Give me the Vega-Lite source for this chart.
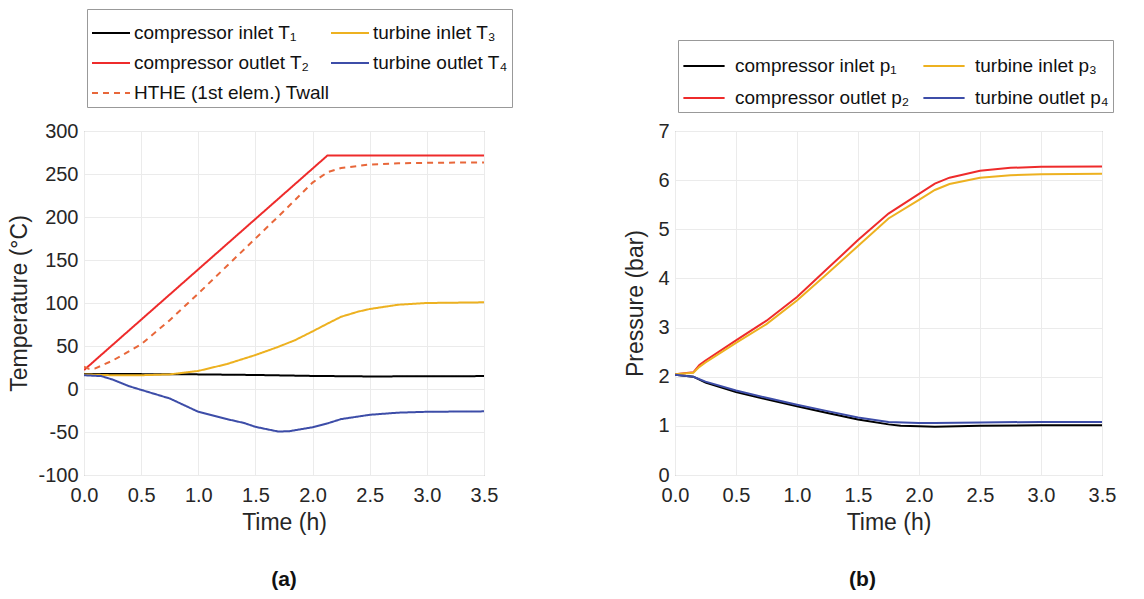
{
  "$schema": "https://vega.github.io/schema/vega-lite/v6.json",
  "background": "white",
  "padding": {"left": 8, "top": 8, "right": 5, "bottom": 5},
  "config": {
    "font": "Liberation Sans",
    "view": {"stroke": "#8c8c8c", "strokeWidth": 1},
    "axis": {
      "labelFontSize": 20, "titleFontSize": 23, "titleFontWeight": "normal",
      "labelColor": "#262626", "titleColor": "#262626",
      "domain": false, "ticks": false, "gridColor": "#ebebeb", "gridWidth": 1,
      "labelPadding": 6, "labelFlush": false, "labelOverlap": false
    },
    "legend": {
      "labelFontSize": 19, "labelColor": "#111111", "labelLimit": 400,
      "symbolType": "stroke", "symbolSize": 1444, "symbolStrokeWidth": 2,
      "strokeColor": "#999999", "fillColor": "white", "padding": 4,
      "columnPadding": -12, "rowPadding": 0, "labelOffset": 3
    },
    "title": {"fontSize": 21, "fontWeight": "bold", "color": "#111111"}
  },
  "resolve": {
    "scale": {"color": "independent", "strokeDash": "independent"},
    "legend": {"color": "independent", "strokeDash": "independent"}
  },
  "spacing": 111,
  "hconcat": [
    {
      "width": 400, "height": 344,
      "title": {"text": "(a)", "orient": "bottom", "offset": 35},
      "data": {"name": "temp"},
      "mark": {"type": "line", "strokeWidth": 2, "clip": true},
      "encoding": {
        "x": {"field": "t", "type": "quantitative", "title": "Time (h)",
          "scale": {"domain": [0, 3.5], "nice": false},
          "axis": {"values": [0, 0.5, 1, 1.5, 2, 2.5, 3, 3.5], "format": ".1f", "titlePadding": 6, "labelPadding": 10}},
        "y": {"field": "value", "type": "quantitative", "title": "Temperature (°C)",
          "scale": {"domain": [-100, 300], "nice": false, "zero": false},
          "axis": {"values": [-100, -50, 0, 50, 100, 150, 200, 250, 300], "titlePadding": 6,
            "labelExpr": "datum.value < 0 ? '-' + abs(datum.value) : '' + datum.value"}},
        "color": {"field": "series", "type": "nominal",
          "scale": {"domain": ["compressor inlet T₁", "turbine inlet T₃", "compressor outlet T₂", "turbine outlet T₄", "HTHE (1st elem.) Twall"],
            "range": ["#000000", "#EDB120", "#EE2B2B", "#3D4DA8", "#E8673A"]},
          "legend": {"title": null, "orient": "none", "legendX": 3, "legendY": -122, "columns": 2, "direction": "horizontal"}},
        "strokeDash": {"field": "series", "type": "nominal",
          "scale": {"domain": ["compressor inlet T₁", "turbine inlet T₃", "compressor outlet T₂", "turbine outlet T₄", "HTHE (1st elem.) Twall"],
            "range": [[1, 0], [1, 0], [1, 0], [1, 0], [6, 5]]},
          "legend": {"title": null, "orient": "none", "legendX": 3, "legendY": -122, "columns": 2, "direction": "horizontal"}}
      }
    },
    {
      "width": 427, "height": 344,
      "title": {"text": "(b)", "orient": "bottom", "offset": 35, "dx": -26},
      "data": {"name": "pres"},
      "mark": {"type": "line", "strokeWidth": 2, "clip": true},
      "encoding": {
        "x": {"field": "t", "type": "quantitative", "title": "Time (h)",
          "scale": {"domain": [0, 3.5], "nice": false},
          "axis": {"values": [0, 0.5, 1, 1.5, 2, 2.5, 3, 3.5], "format": ".1f", "titlePadding": 6, "labelPadding": 10}},
        "y": {"field": "value", "type": "quantitative", "title": "Pressure (bar)",
          "scale": {"domain": [0, 7], "nice": false},
          "axis": {"values": [0, 1, 2, 3, 4, 5, 6, 7], "titlePadding": 10}},
        "color": {"field": "series", "type": "nominal",
          "scale": {"domain": ["compressor inlet p₁", "turbine inlet p₃", "compressor outlet p₂", "turbine outlet p₄"],
            "range": ["#000000", "#EDB120", "#EE2B2B", "#3D4DA8"]},
          "legend": {"title": null, "orient": "none", "legendX": 3, "legendY": -91, "columns": 2, "direction": "horizontal", "symbolSize": 1700, "rowPadding": 0, "padding": 4, "columnPadding": 9, "labelOffset": 9}}
      }
    }
  ],
  "datasets": {
    "temp": [
      {"t": 0, "series": "compressor inlet T₁", "value": 17.5},
      {"t": 0.5, "series": "compressor inlet T₁", "value": 17.3},
      {"t": 1.0, "series": "compressor inlet T₁", "value": 17.0},
      {"t": 1.5, "series": "compressor inlet T₁", "value": 16.3},
      {"t": 2.0, "series": "compressor inlet T₁", "value": 15.2},
      {"t": 2.5, "series": "compressor inlet T₁", "value": 14.6},
      {"t": 3.0, "series": "compressor inlet T₁", "value": 14.8},
      {"t": 3.5, "series": "compressor inlet T₁", "value": 15.0},

      {"t": 0, "series": "compressor outlet T₂", "value": 22},
      {"t": 2.13, "series": "compressor outlet T₂", "value": 271.5},
      {"t": 3.5, "series": "compressor outlet T₂", "value": 271.5},

      {"t": 0, "series": "turbine inlet T₃", "value": 17},
      {"t": 0.25, "series": "turbine inlet T₃", "value": 16},
      {"t": 0.5, "series": "turbine inlet T₃", "value": 16},
      {"t": 0.75, "series": "turbine inlet T₃", "value": 17},
      {"t": 1.0, "series": "turbine inlet T₃", "value": 21},
      {"t": 1.25, "series": "turbine inlet T₃", "value": 29},
      {"t": 1.5, "series": "turbine inlet T₃", "value": 39.5},
      {"t": 1.7, "series": "turbine inlet T₃", "value": 49},
      {"t": 1.85, "series": "turbine inlet T₃", "value": 57},
      {"t": 2.0, "series": "turbine inlet T₃", "value": 67},
      {"t": 2.13, "series": "turbine inlet T₃", "value": 76},
      {"t": 2.25, "series": "turbine inlet T₃", "value": 84},
      {"t": 2.4, "series": "turbine inlet T₃", "value": 90},
      {"t": 2.5, "series": "turbine inlet T₃", "value": 93},
      {"t": 2.75, "series": "turbine inlet T₃", "value": 98},
      {"t": 3.0, "series": "turbine inlet T₃", "value": 100},
      {"t": 3.5, "series": "turbine inlet T₃", "value": 100.8},

      {"t": 0, "series": "turbine outlet T₄", "value": 16},
      {"t": 0.15, "series": "turbine outlet T₄", "value": 15},
      {"t": 0.25, "series": "turbine outlet T₄", "value": 11},
      {"t": 0.4, "series": "turbine outlet T₄", "value": 3},
      {"t": 0.5, "series": "turbine outlet T₄", "value": -1},
      {"t": 0.75, "series": "turbine outlet T₄", "value": -11},
      {"t": 1.0, "series": "turbine outlet T₄", "value": -26.5},
      {"t": 1.25, "series": "turbine outlet T₄", "value": -35},
      {"t": 1.4, "series": "turbine outlet T₄", "value": -39.5},
      {"t": 1.5, "series": "turbine outlet T₄", "value": -44},
      {"t": 1.7, "series": "turbine outlet T₄", "value": -49.5},
      {"t": 1.8, "series": "turbine outlet T₄", "value": -49},
      {"t": 2.0, "series": "turbine outlet T₄", "value": -44.5},
      {"t": 2.13, "series": "turbine outlet T₄", "value": -40},
      {"t": 2.25, "series": "turbine outlet T₄", "value": -35},
      {"t": 2.5, "series": "turbine outlet T₄", "value": -30},
      {"t": 2.75, "series": "turbine outlet T₄", "value": -27.5},
      {"t": 3.0, "series": "turbine outlet T₄", "value": -26.5},
      {"t": 3.5, "series": "turbine outlet T₄", "value": -26},

      {"t": 0, "series": "HTHE (1st elem.) Twall", "value": 26},
      {"t": 0.04, "series": "HTHE (1st elem.) Twall", "value": 23.5},
      {"t": 0.1, "series": "HTHE (1st elem.) Twall", "value": 24},
      {"t": 0.25, "series": "HTHE (1st elem.) Twall", "value": 33},
      {"t": 0.5, "series": "HTHE (1st elem.) Twall", "value": 52},
      {"t": 0.75, "series": "HTHE (1st elem.) Twall", "value": 80},
      {"t": 1.0, "series": "HTHE (1st elem.) Twall", "value": 111},
      {"t": 1.25, "series": "HTHE (1st elem.) Twall", "value": 143},
      {"t": 1.5, "series": "HTHE (1st elem.) Twall", "value": 175},
      {"t": 1.75, "series": "HTHE (1st elem.) Twall", "value": 207},
      {"t": 2.0, "series": "HTHE (1st elem.) Twall", "value": 240},
      {"t": 2.13, "series": "HTHE (1st elem.) Twall", "value": 252},
      {"t": 2.25, "series": "HTHE (1st elem.) Twall", "value": 257},
      {"t": 2.5, "series": "HTHE (1st elem.) Twall", "value": 261},
      {"t": 2.75, "series": "HTHE (1st elem.) Twall", "value": 262.5},
      {"t": 3.0, "series": "HTHE (1st elem.) Twall", "value": 263},
      {"t": 3.5, "series": "HTHE (1st elem.) Twall", "value": 263.5}
    ],
    "pres": [
      {"t": 0, "series": "compressor inlet p₁", "value": 2.04},
      {"t": 0.15, "series": "compressor inlet p₁", "value": 2.0},
      {"t": 0.25, "series": "compressor inlet p₁", "value": 1.88},
      {"t": 0.5, "series": "compressor inlet p₁", "value": 1.69},
      {"t": 0.75, "series": "compressor inlet p₁", "value": 1.54},
      {"t": 1.0, "series": "compressor inlet p₁", "value": 1.4},
      {"t": 1.25, "series": "compressor inlet p₁", "value": 1.26},
      {"t": 1.5, "series": "compressor inlet p₁", "value": 1.13},
      {"t": 1.75, "series": "compressor inlet p₁", "value": 1.03},
      {"t": 1.85, "series": "compressor inlet p₁", "value": 1.0},
      {"t": 2.0, "series": "compressor inlet p₁", "value": 0.99},
      {"t": 2.13, "series": "compressor inlet p₁", "value": 0.98},
      {"t": 2.5, "series": "compressor inlet p₁", "value": 1.0},
      {"t": 3.0, "series": "compressor inlet p₁", "value": 1.01},
      {"t": 3.5, "series": "compressor inlet p₁", "value": 1.01},

      {"t": 0, "series": "compressor outlet p₂", "value": 2.05},
      {"t": 0.15, "series": "compressor outlet p₂", "value": 2.09},
      {"t": 0.2, "series": "compressor outlet p₂", "value": 2.24},
      {"t": 0.25, "series": "compressor outlet p₂", "value": 2.33},
      {"t": 0.5, "series": "compressor outlet p₂", "value": 2.74},
      {"t": 0.75, "series": "compressor outlet p₂", "value": 3.14},
      {"t": 1.0, "series": "compressor outlet p₂", "value": 3.62},
      {"t": 1.25, "series": "compressor outlet p₂", "value": 4.2},
      {"t": 1.5, "series": "compressor outlet p₂", "value": 4.78},
      {"t": 1.75, "series": "compressor outlet p₂", "value": 5.32},
      {"t": 2.0, "series": "compressor outlet p₂", "value": 5.72},
      {"t": 2.13, "series": "compressor outlet p₂", "value": 5.93},
      {"t": 2.25, "series": "compressor outlet p₂", "value": 6.05},
      {"t": 2.5, "series": "compressor outlet p₂", "value": 6.19},
      {"t": 2.75, "series": "compressor outlet p₂", "value": 6.25},
      {"t": 3.0, "series": "compressor outlet p₂", "value": 6.27},
      {"t": 3.5, "series": "compressor outlet p₂", "value": 6.28},

      {"t": 0, "series": "turbine inlet p₃", "value": 2.05},
      {"t": 0.15, "series": "turbine inlet p₃", "value": 2.08},
      {"t": 0.2, "series": "turbine inlet p₃", "value": 2.2},
      {"t": 0.25, "series": "turbine inlet p₃", "value": 2.29},
      {"t": 0.5, "series": "turbine inlet p₃", "value": 2.69},
      {"t": 0.75, "series": "turbine inlet p₃", "value": 3.07},
      {"t": 1.0, "series": "turbine inlet p₃", "value": 3.55},
      {"t": 1.25, "series": "turbine inlet p₃", "value": 4.1},
      {"t": 1.5, "series": "turbine inlet p₃", "value": 4.66},
      {"t": 1.75, "series": "turbine inlet p₃", "value": 5.22},
      {"t": 2.0, "series": "turbine inlet p₃", "value": 5.6},
      {"t": 2.13, "series": "turbine inlet p₃", "value": 5.8},
      {"t": 2.25, "series": "turbine inlet p₃", "value": 5.92},
      {"t": 2.5, "series": "turbine inlet p₃", "value": 6.05},
      {"t": 2.75, "series": "turbine inlet p₃", "value": 6.1},
      {"t": 3.0, "series": "turbine inlet p₃", "value": 6.12},
      {"t": 3.5, "series": "turbine inlet p₃", "value": 6.13},

      {"t": 0, "series": "turbine outlet p₄", "value": 2.04},
      {"t": 0.15, "series": "turbine outlet p₄", "value": 2.0},
      {"t": 0.25, "series": "turbine outlet p₄", "value": 1.9},
      {"t": 0.5, "series": "turbine outlet p₄", "value": 1.72},
      {"t": 0.75, "series": "turbine outlet p₄", "value": 1.57},
      {"t": 1.0, "series": "turbine outlet p₄", "value": 1.43},
      {"t": 1.25, "series": "turbine outlet p₄", "value": 1.3},
      {"t": 1.5, "series": "turbine outlet p₄", "value": 1.17},
      {"t": 1.75, "series": "turbine outlet p₄", "value": 1.08},
      {"t": 2.0, "series": "turbine outlet p₄", "value": 1.06},
      {"t": 2.13, "series": "turbine outlet p₄", "value": 1.06},
      {"t": 2.5, "series": "turbine outlet p₄", "value": 1.07},
      {"t": 3.0, "series": "turbine outlet p₄", "value": 1.08},
      {"t": 3.5, "series": "turbine outlet p₄", "value": 1.08}
    ]
  }
}
